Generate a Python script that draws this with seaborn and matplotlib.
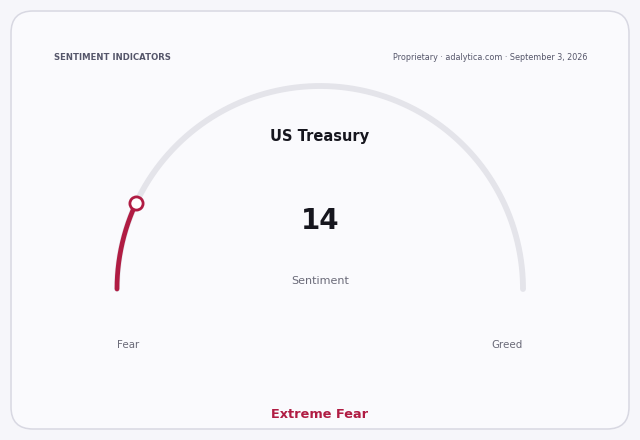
import numpy as np
import matplotlib
matplotlib.use("Agg")
import matplotlib.pyplot as plt
from matplotlib.patches import FancyBboxPatch
import seaborn as sns

# ---- data ----
title = "US Treasury"
value = 14
value_min = 0
value_max = 100
metric_label = "Sentiment"
low_label = "Fear"
high_label = "Greed"
status_label = "Extreme Fear"
header_left = "SENTIMENT INDICATORS"
header_right = "Proprietary · adalytica.com · September 3, 2026"

sns.set_theme(style="white")
plt.rcParams['font.family'] = ['DejaVu Sans']

W, H = 640, 440
fig = plt.figure(figsize=(W / 100, H / 100), dpi=100)
fig.patch.set_facecolor("#f6f6fa")
ax = fig.add_axes([0, 0, 1, 1])
ax.set_xlim(0, W)
ax.set_ylim(H, 0)
ax.axis("off")

card = FancyBboxPatch((11, 11), 618, 418, boxstyle="round,pad=0,rounding_size=22",
                      facecolor="#fafafd", edgecolor="#d8d8e2", linewidth=1.1)
ax.add_patch(card)

red = "#b01c43"
cx, cy, r = 320, 289, 203

def arc(v0, v1, n=200):
    t0 = np.pi * (1 - (v0 - value_min) / (value_max - value_min))
    t1 = np.pi * (1 - (v1 - value_min) / (value_max - value_min))
    t = np.linspace(t0, t1, n)
    return cx + r * np.cos(t), cy - r * np.sin(t)

xs, ys = arc(value_min, value_max)
ax.plot(xs, ys, color="#e4e4ea", lw=4.2, solid_capstyle="round")
xs, ys = arc(value_min, value)
ax.plot(xs, ys, color=red, lw=3.4, solid_capstyle="round")
ax.plot([xs[-1]], [ys[-1]], marker="o", ms=9.5, mfc="white", mec=red, mew=2.0)

ax.text(54, 57, header_left, ha="left", va="center", fontsize=6.1,
        fontweight="bold", color="#55566a")
ax.text(587, 57, header_right, ha="right", va="center", fontsize=5.75, color="#55566a")

ax.text(320, 137, title, ha="center", va="center", fontsize=10.5, fontweight="bold", color="#16161e")
ax.text(320, 221, str(value), ha="center", va="center", fontsize=20, fontweight="bold", color="#16161e")
ax.text(320, 281, metric_label, ha="center", va="center", fontsize=8.0, color="#6a6a78")
ax.text(128, 345, low_label, ha="center", va="center", fontsize=7.4, color="#6a6a78")
ax.text(507, 345, high_label, ha="center", va="center", fontsize=7.4, color="#6a6a78")
ax.text(320, 414, status_label, ha="center", va="center", fontsize=9.3, fontweight="bold", color=red)

fig.savefig("out.png", dpi=100, facecolor=fig.get_facecolor())
